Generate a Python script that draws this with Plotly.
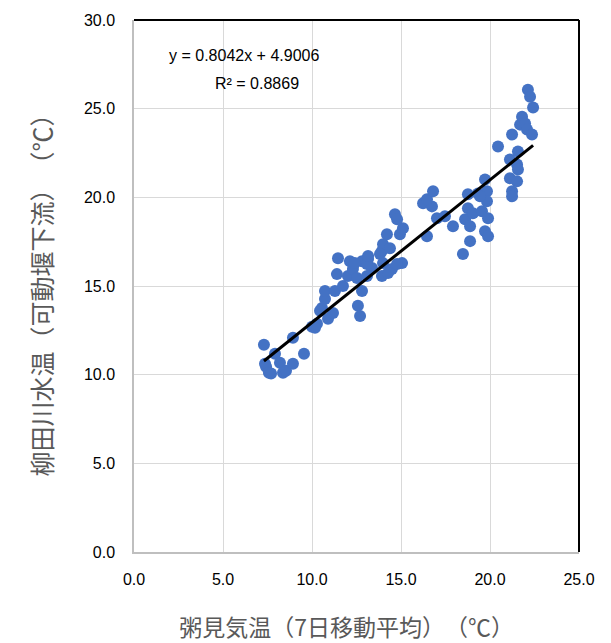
import plotly.graph_objects as go

# Air temperature (7-day moving average, °C)
air_temp = [7.30, 7.36, 7.42, 7.58, 7.70, 7.92, 8.20, 8.37, 8.54, 8.93, 8.93, 9.55,
            10.00, 10.28, 10.17, 10.56, 10.45, 10.73, 10.73, 10.90, 11.18, 11.29, 11.40, 11.46,
            11.74, 12.02, 12.13, 12.30, 12.58, 12.70, 12.81, 12.81, 13.15, 13.37, 12.53, 13.09,
            12.40, 13.09, 13.15, 13.93, 13.99, 14.38, 13.99, 13.93, 14.49, 15.06, 14.21, 14.94,
            15.11, 14.66, 14.78, 13.82, 14.78, 14.27,
            16.24, 16.74, 16.46, 16.80, 16.46, 17.02, 17.47, 17.92, 18.60, 18.88, 18.76, 19.04,
            19.55, 19.89, 18.76, 19.33, 19.83, 19.83, 19.72, 19.72, 19.89, 18.88, 18.48, 19.44,
            20.45, 21.24, 21.12, 21.52, 21.57, 21.57, 21.12, 21.52, 21.24, 21.24, 21.69, 21.80,
            21.97, 22.08, 22.36, 22.13, 22.25, 22.42]
# River water temperature (downstream of movable weir, °C)
water_temp = [11.69, 10.62, 10.45, 10.11, 10.06, 11.18, 10.67, 10.11, 10.22, 12.08, 10.62, 11.18,
              12.70, 12.87, 12.64, 13.76, 13.60, 14.27, 14.72, 13.15, 13.48, 14.72, 15.67, 16.57,
              15.00, 15.56, 16.40, 15.96, 13.88, 13.31, 14.72, 16.40, 16.52, 16.01, 15.45, 15.56,
              16.30, 16.24, 16.69, 16.97, 17.36, 17.13, 16.29, 15.56, 15.96, 16.29, 17.92, 17.92,
              18.26, 19.04, 18.76, 16.80, 16.24, 15.73,
              19.66, 19.49, 19.89, 20.34, 17.81, 18.82, 18.93, 18.37, 18.76, 18.37, 19.38, 19.10,
              19.21, 18.82, 20.17, 20.22, 20.34, 19.78, 21.01, 18.09, 17.81, 17.53, 16.80, 20.06,
              22.87, 23.54, 22.13, 21.85, 21.57, 22.58, 21.07, 20.90, 20.34, 20.06, 24.10, 24.55,
              24.16, 23.82, 23.54, 26.07, 25.67, 25.06]

slope = 0.8042
intercept = 4.9006
r_squared = 0.8869

x_ticks = [0, 5, 10, 15, 20, 25]
y_ticks = [0, 5, 10, 15, 20, 25, 30]

x_title = "粥見気温（7日移動平均）（℃）"
y_title = "柳田川水温（可動堰下流）（℃）"

trend_x = [min(air_temp), max(air_temp)]
trend_y = [slope * v + intercept for v in trend_x]

fig = go.Figure()
fig.add_trace(go.Scatter(
    x=air_temp, y=water_temp, mode="markers",
    marker=dict(color="#4472C4", size=12, line=dict(width=0)),
    showlegend=False, hoverinfo="x+y"))
fig.add_trace(go.Scatter(
    x=trend_x, y=trend_y, mode="lines",
    line=dict(color="#000000", width=3),
    showlegend=False, hoverinfo="skip"))

tick_font = dict(family="Liberation Sans, Arial, sans-serif", size=16, color="#000000")
x_title_font = dict(family="Noto Sans CJK JP, sans-serif", size=23, color="#595959")
y_title_font = dict(family="Noto Sans CJK JP, sans-serif", size=25, color="#595959")

fig.update_layout(
    width=611, height=643,
    margin=dict(l=134, r=32, t=18, b=91),
    paper_bgcolor="white", plot_bgcolor="white",
    xaxis=dict(range=[0, 25], tickvals=x_ticks, tickformat=".1f",
               showgrid=True, gridcolor="#D9D9D9", gridwidth=1,
               zeroline=False, showline=True, linecolor="#BFBFBF", linewidth=1.5,
               tickfont=tick_font, ticks="", ticklabelstandoff=12, fixedrange=True),
    yaxis=dict(range=[0, 30], tickvals=y_ticks, tickformat=".1f",
               showgrid=True, gridcolor="#D9D9D9", gridwidth=1,
               zeroline=False, showline=True, linecolor="#BFBFBF", linewidth=1.5,
               tickfont=tick_font, ticks="", ticklabelstandoff=14, fixedrange=True),
    shapes=[
        dict(type="line", xref="paper", yref="paper", x0=0, x1=1, y0=1, y1=1,
             line=dict(color="#000000", width=2)),
        dict(type="line", xref="paper", yref="paper", x0=1, x1=1, y0=0, y1=1,
             line=dict(color="#000000", width=2)),
    ],
    annotations=[
        dict(text=f"y = {slope:.4f}x + {intercept:.4f}", xref="x", yref="y",
             x=6.2, y=28.0, showarrow=False, font=tick_font),
        dict(text=f"R² = {r_squared:.4f}", xref="x", yref="y",
             x=6.9, y=26.4, showarrow=False, font=tick_font),
        dict(text=x_title, xref="paper", yref="paper", x=(346 - 134) / 445, y=-0.14,
             xanchor="center", yanchor="middle", showarrow=False, font=x_title_font),
        dict(text=y_title, xref="paper", yref="paper", x=-0.21, y=0.495,
             xanchor="center", yanchor="middle", textangle=-90, showarrow=False,
             font=y_title_font),
    ],
)

post_js = (
    "document.body.style.margin='0px';"
    "document.body.style.overflow='hidden';"
    "var st=document.createElement('style');"
    "st.textContent='html,body,svg,text,tspan{text-spacing-trim:space-all !important;}';"
    "document.head.appendChild(st);"
)
fig.write_html("out.html", config={"displayModeBar": False}, post_script=post_js)
